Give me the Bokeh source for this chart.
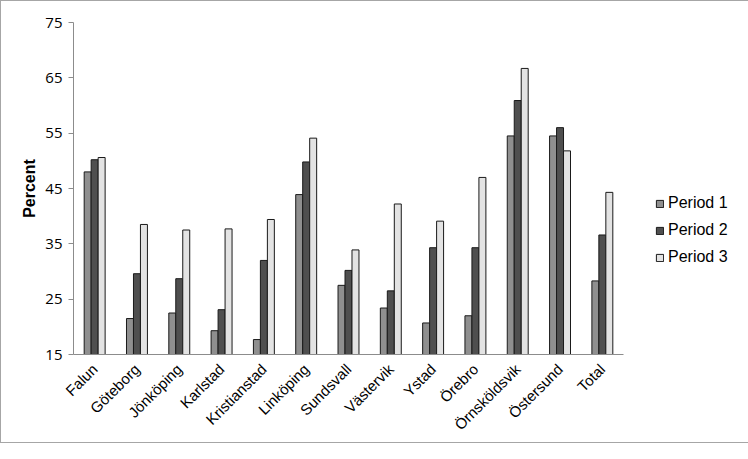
import math
from bokeh.plotting import figure
from bokeh.models import (ColumnDataSource, FactorRange, Range1d, FixedTicker,
                          Legend, LegendItem)
from bokeh.transform import dodge
from bokeh.embed import file_html
from bokeh.resources import INLINE

cities = ["Falun", "Göteborg", "Jönköping", "Karlstad", "Kristianstad",
          "Linköping", "Sundsvall", "Västervik", "Ystad", "Örebro",
          "Örnsköldsvik", "Östersund", "Total"]
period1 = [48.0, 21.5, 22.5, 19.3, 17.7, 43.9, 27.5, 23.4, 20.7, 22.0, 54.5, 54.5, 28.3]
period2 = [50.2, 29.6, 28.7, 23.1, 32.0, 49.8, 30.2, 26.5, 34.3, 34.3, 60.9, 56.0, 36.6]
period3 = [50.6, 38.5, 37.5, 37.7, 39.4, 54.1, 33.9, 42.2, 39.1, 47.0, 66.7, 51.8, 44.3]
series_names = ["Period 1", "Period 2", "Period 3"]
y_ticks = [15, 25, 35, 45, 55, 65, 75]

colors = ["#8f8f8f", "#4f4f4f", "#e3e3e3"]

source = ColumnDataSource(dict(city=cities, p1=period1, p2=period2, p3=period3))

p = figure(x_range=FactorRange(factors=cities, range_padding=0),
           y_range=Range1d(15, 75),
           frame_width=550, frame_height=332,
           min_border_left=72, min_border_right=108,
           min_border_top=21, min_border_bottom=88,
           output_backend="svg", toolbar_location=None,
           styles={"border": "1px solid #a6a6a6"})

bw = 0.165
renderers = []
for i, (col, name) in enumerate(zip(["p1", "p2", "p3"], series_names)):
    r = p.vbar(x=dodge("city", (i - 1) * bw, range=p.x_range), top=col, bottom=15,
               width=bw, source=source, fill_color=colors[i],
               line_color="#1a1a1a", line_width=1)
    renderers.append(r)

p.xgrid.grid_line_color = None
p.ygrid.grid_line_color = None
p.outline_line_color = None

# y axis
p.yaxis.ticker = FixedTicker(ticks=y_ticks)
p.yaxis.axis_line_color = "#8c8c8c"
p.yaxis.major_tick_line_color = "#8c8c8c"
p.yaxis.major_tick_out = 5
p.yaxis.major_tick_in = 0
p.yaxis.minor_tick_line_color = None
p.yaxis.major_label_text_font = "Open Sans"
p.yaxis.major_label_text_font_size = "15px"
p.yaxis.major_label_text_color = "#000000"
p.yaxis.major_label_standoff = 6
p.yaxis.axis_label = "Percent"
p.yaxis.axis_label_text_font = "Liberation Sans"
p.yaxis.axis_label_text_font_style = "bold"
p.yaxis.axis_label_text_font_size = "16px"
p.yaxis.axis_label_text_color = "#000000"
p.yaxis.axis_label_standoff = 4

# x axis
p.xaxis.axis_line_color = "#8c8c8c"
p.xaxis.major_tick_line_color = None
p.xaxis.minor_tick_line_color = None
p.xaxis.major_label_orientation = math.pi / 4
p.xaxis.major_label_text_font = "Liberation Sans"
p.xaxis.major_label_text_font_size = "15px"
p.xaxis.major_label_text_color = "#000000"
p.xaxis.major_label_standoff = 6

legend = Legend(items=[LegendItem(label=n, renderers=[r]) for n, r in zip(series_names, renderers)],
                location=(32, 87), padding=0, margin=0, spacing=7,
                glyph_width=9, glyph_height=9, label_height=20,
                label_standoff=4, label_text_font="Liberation Sans",
                label_text_font_size="16px", label_text_color="#000000",
                border_line_color=None, background_fill_alpha=0)
p.add_layout(legend, "right")

open("out.html", "w").write(file_html(p, INLINE))
